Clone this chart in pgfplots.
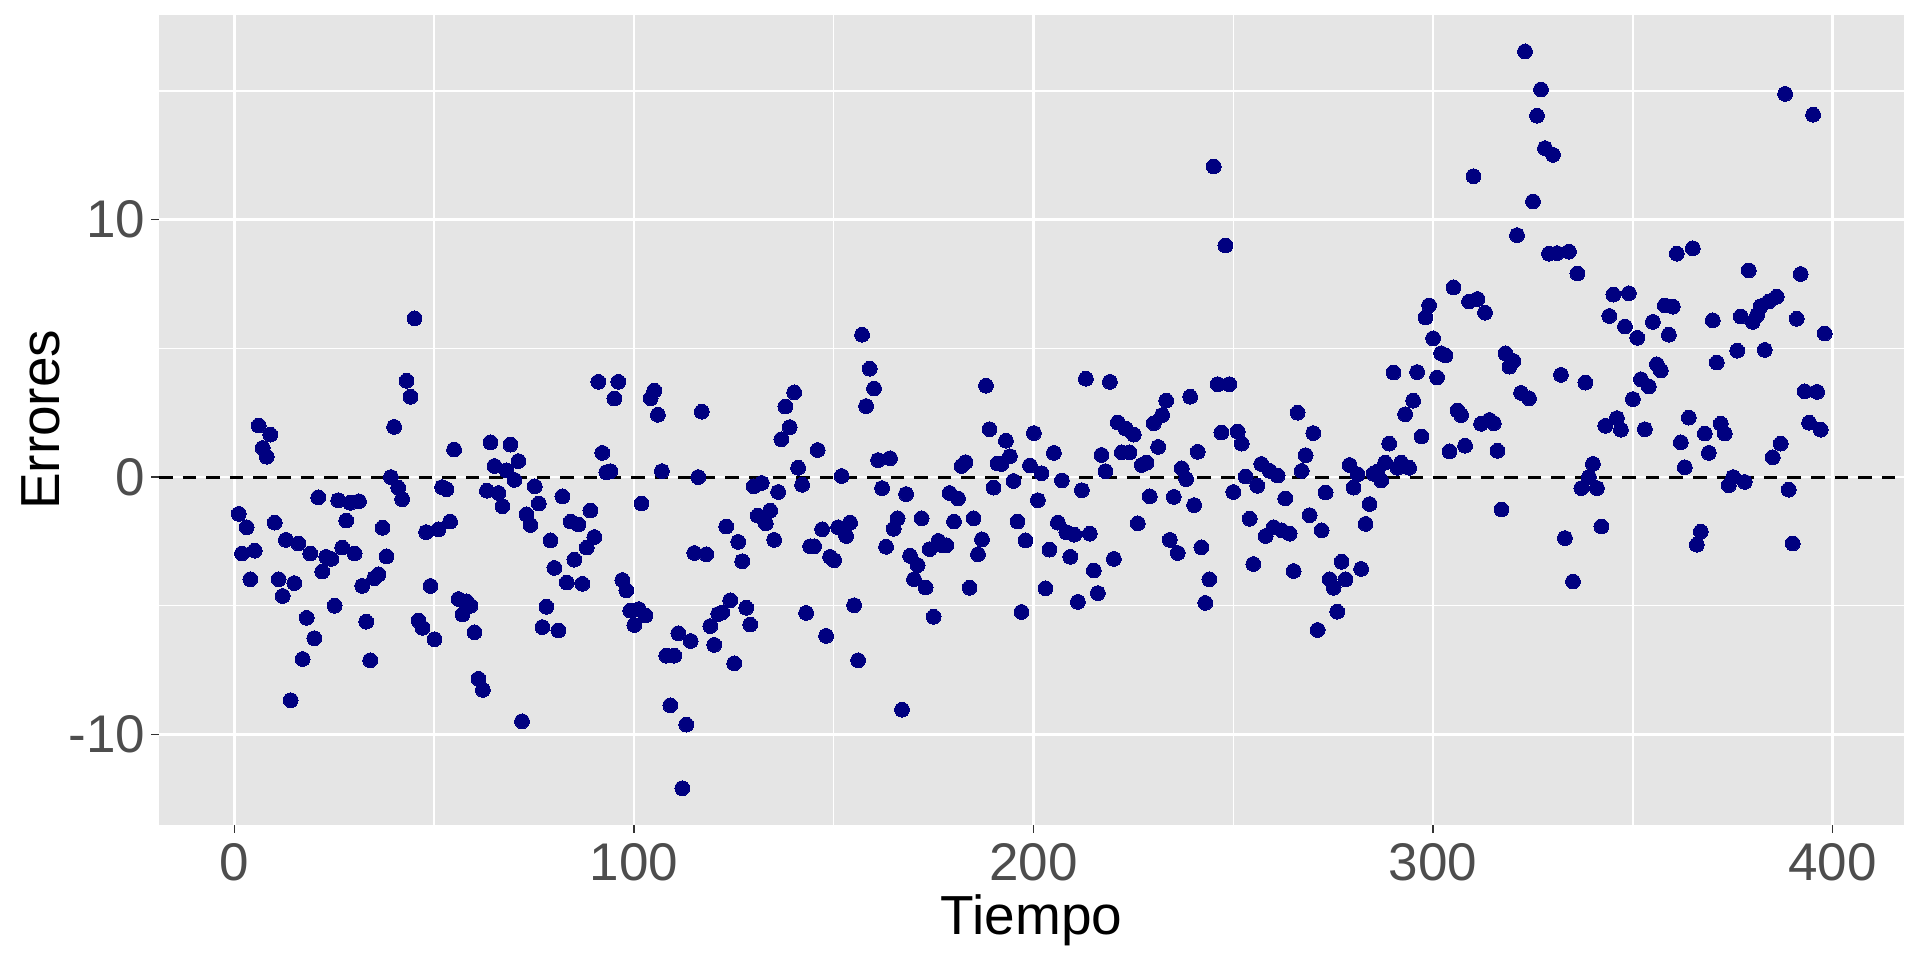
\documentclass[border=0pt]{standalone}
\usepackage{pgfplots}
\pgfplotsset{compat=1.18}
\usepackage{fontspec}
\setmainfont{Liberation Sans}
\definecolor{bg}{HTML}{E5E5E5}
\definecolor{pts}{HTML}{000080}
\definecolor{lab}{HTML}{4D4D4D}
\definecolor{tk}{HTML}{333333}
\pgfplotstableread{
x y
1.1 -1.43
1.9 -2.97
3.1 -1.95
4.0 -3.97
5.1 -2.86
6.1 2.0
7.1 1.13
8.1 0.79
9.0 1.65
10.1 -1.77
11.1 -3.97
12.1 -4.62
12.9 -2.44
14.1 -8.67
15.0 -4.12
16.0 -2.58
17.1 -7.07
18.1 -5.47
19.0 -2.97
20.0 -6.26
21.0 -0.79
22.0 -3.67
23.0 -3.1
24.3 -3.18
25.1 -5.0
26.0 -0.9
27.0 -2.74
28.0 -1.69
29.0 -1.0
30.1 -2.97
31.2 -0.94
32.0 -4.23
33.0 -5.62
34.0 -7.12
35.0 -3.93
36.1 -3.78
37.1 -1.97
38.1 -3.08
39.2 0.0
40.0 1.95
41.0 -0.41
42.0 -0.86
43.1 3.74
44.1 3.12
45.1 6.17
46.1 -5.58
47.1 -5.86
48.0 -2.14
49.1 -4.23
50.1 -6.3
51.1 -2.03
52.0 -0.39
53.1 -0.47
54.0 -1.73
55.0 1.07
56.1 -4.74
57.1 -5.34
58.1 -4.83
59.1 -5.0
60.1 -6.03
61.1 -7.84
62.2 -8.27
63.2 -0.53
64.1 1.35
65.1 0.43
66.1 -0.62
67.1 -1.13
68.1 0.26
69.1 1.26
70.1 -0.11
71.1 0.62
72.0 -9.49
73.1 -1.45
74.1 -1.86
75.2 -0.36
76.2 -1.03
77.1 -5.83
78.1 -5.04
79.1 -2.46
80.1 -3.53
81.1 -5.96
82.1 -0.75
83.2 -4.1
84.2 -1.73
85.1 -3.21
86.1 -1.84
87.1 -4.15
88.2 -2.74
89.1 -1.3
90.1 -2.33
91.1 3.7
92.1 0.94
93.1 0.19
94.1 0.23
95.1 3.05
96.1 3.7
97.1 -4.0
98.1 -4.4
99.1 -5.19
100.1 -5.75
101.2 -5.13
101.9 -1.03
102.9 -5.38
104.2 3.06
105.1 3.36
106.0 2.42
107.0 0.23
108.1 -6.94
109.1 -8.87
110.1 -6.94
111.1 -6.07
112.1 -12.09
113.1 -9.62
114.2 -6.37
115.1 -2.95
116.1 0.0
117.0 2.54
118.1 -3.0
119.1 -5.79
120.1 -6.52
121.1 -5.32
122.1 -5.26
123.1 -1.92
124.1 -4.79
125.1 -7.24
126.1 -2.52
127.1 -3.27
128.1 -5.08
129.1 -5.73
130.0 -0.36
131.0 -1.5
132.0 -0.23
133.0 -1.8
134.1 -1.3
135.1 -2.44
136.1 -0.58
136.9 1.47
137.9 2.74
139.0 1.94
140.1 3.29
141.1 0.36
142.1 -0.3
143.1 -5.28
144.1 -2.69
145.1 -2.69
146.0 1.05
147.1 -2.03
148.1 -6.17
149.1 -3.1
150.1 -3.23
151.1 -1.95
152.0 0.04
153.1 -2.29
154.1 -1.77
155.1 -4.98
156.1 -7.12
157.1 5.53
158.1 2.76
159.0 4.21
160.1 3.44
161.1 0.66
162.1 -0.43
163.1 -2.71
164.1 0.73
165.0 -2.01
166.0 -1.6
167.1 -9.04
168.1 -0.66
169.1 -3.06
170.1 -3.97
171.0 -3.42
172.0 -1.6
173.0 -4.29
174.0 -2.8
175.0 -5.43
176.2 -2.48
177.2 -2.65
178.2 -2.65
179.0 -0.62
180.1 -1.73
181.1 -0.83
182.0 0.43
183.0 0.58
184.0 -4.3
185.0 -1.6
186.1 -3.0
187.1 -2.42
188.1 3.55
189.0 1.86
190.0 -0.41
191.0 0.53
192.0 0.51
193.1 1.41
194.1 0.81
195.0 -0.15
196.0 -1.73
197.0 -5.24
198.0 -2.46
199.1 0.45
200.1 1.71
201.1 -0.9
202.0 0.15
203.0 -4.32
204.0 -2.82
205.1 0.94
206.1 -1.77
207.1 -0.13
208.2 -2.14
209.2 -3.1
210.2 -2.24
211.1 -4.85
212.1 -0.51
213.1 3.82
214.1 -2.2
215.1 -3.63
216.1 -4.51
217.0 0.86
218.0 0.23
219.1 3.7
220.1 -3.18
221.1 2.12
222.1 0.96
223.1 1.88
224.0 0.96
225.1 1.65
226.1 -1.8
227.1 0.47
228.3 0.56
229.1 -0.75
230.1 2.09
231.2 1.17
232.2 2.41
233.2 2.97
234.1 -2.44
235.1 -0.77
236.1 -2.95
237.1 0.34
238.2 -0.08
239.2 3.12
240.2 -1.09
241.1 0.98
242.0 -2.73
243.0 -4.89
244.0 -3.97
245.1 12.07
246.1 3.61
247.0 1.73
248.0 9.0
249.0 3.61
250.0 -0.58
251.1 1.77
252.1 1.3
253.1 0.02
254.1 -1.62
255.0 -3.38
256.0 -0.34
257.0 0.51
258.1 -2.29
259.1 0.24
260.1 -1.95
261.1 0.06
262.1 -2.07
263.0 -0.83
264.1 -2.2
265.1 -3.65
266.1 2.5
267.1 0.24
268.1 0.85
269.1 -1.48
270.0 1.71
271.1 -5.94
272.1 -2.07
273.1 -0.6
274.1 -3.97
275.1 -4.3
276.0 -5.23
277.1 -3.29
278.1 -3.97
279.1 0.47
280.1 -0.41
281.1 0.11
282.0 -3.57
283.1 -1.82
284.1 -1.05
285.1 0.13
286.0 0.21
287.0 -0.13
288.0 0.56
289.0 1.3
290.1 4.06
291.1 0.36
292.0 0.56
293.0 2.44
294.0 0.36
295.0 2.97
296.0 4.08
297.1 1.58
298.1 6.2
299.0 6.67
300.0 5.39
301.0 3.87
302.0 4.81
303.1 4.72
304.1 1.0
305.1 7.37
306.1 2.59
307.0 2.41
308.0 1.22
309.0 6.82
310.1 11.69
311.1 6.92
312.0 2.07
313.0 6.39
314.1 2.22
315.2 2.09
316.1 1.02
317.1 -1.26
318.1 4.81
319.1 4.29
320.1 4.51
321.0 9.4
322.0 3.27
323.0 16.54
324.0 3.06
325.0 10.71
326.0 14.04
327.0 15.06
328.0 12.78
329.0 8.68
330.0 12.52
331.0 8.7
332.0 3.97
333.0 -2.37
334.0 8.76
335.0 -4.06
336.1 7.91
337.1 -0.43
338.1 3.67
339.0 0.0
340.0 0.51
341.0 -0.43
342.1 -1.92
343.1 1.99
344.1 6.26
345.1 7.09
346.0 2.29
347.0 1.84
348.0 5.85
349.0 7.14
350.0 3.03
351.1 5.41
352.0 3.8
353.0 1.86
354.0 3.52
355.0 6.03
356.0 4.38
357.0 4.14
358.0 6.67
359.0 5.53
360.0 6.62
361.0 8.68
362.0 1.35
363.0 0.38
364.0 2.31
365.0 8.89
366.0 -2.63
367.0 -2.12
368.0 1.69
369.0 0.94
370.0 6.09
371.0 4.45
372.0 2.07
373.0 1.69
374.0 -0.32
375.1 0.0
376.1 4.91
377.0 6.24
378.0 -0.19
379.0 8.03
380.0 6.03
381.1 6.3
382.0 6.64
383.0 4.94
384.0 6.82
385.0 0.77
386.0 7.01
387.0 1.3
388.1 14.89
389.0 -0.49
390.0 -2.58
391.0 6.15
392.0 7.89
393.0 3.33
394.1 2.11
395.1 14.08
396.1 3.31
397.0 1.84
398.0 5.58
}\errores
\begin{document}
\begin{tikzpicture}
\begin{axis}[
  at={(0,0)}, anchor=south west,
  scale only axis, width=872.5pt, height=405.2pt,
  xmin=-18.85, xmax=417.85, ymin=-13.52, ymax=17.97,
  axis background/.style={fill=bg},
  axis line style={draw=none},
  grid=both,
  major grid style={white, line width=1.35pt},
  minor grid style={white, line width=0.7pt},
  xtick={0,100,200,300,400}, xticklabels={0,100,200,300,400},
  minor xtick={50,150,250,350},
  ytick={-10,0,10}, yticklabels={-10,0,10},
  minor ytick={-5,5,15},
  tick align=outside,
  xtick pos=bottom, ytick pos=left,
  major tick length=3.8pt, minor tick length=0pt,
  tick style={color=tk, line width=0.75pt},
  ticklabel style={font=\fontsize{26.5}{31}\selectfont, text=lab},
  xticklabel style={anchor=north, inner sep=0pt, yshift=-5pt},
  yticklabel style={anchor=east, inner sep=0pt, xshift=-3pt},
  xlabel={Tiempo}, ylabel={Errores},
  every axis x label/.style={at={(axis description cs:0.5,0)}, anchor=center, yshift=-47.5pt, font=\fontsize{27.5}{32}\selectfont, text=black},
  every axis y label/.style={at={(axis description cs:-0.0675,0.5)}, rotate=90, anchor=center, font=\fontsize{27.5}{32}\selectfont, text=black},
]
\addplot[pts, only marks, mark=*, mark size=3.7pt, mark options={fill=pts, draw=pts, line width=0pt}] table {\errores};
\addplot[black, line width=1.5pt, dash pattern=on 6.8pt off 5pt] coordinates {(-18.85,0) (417.85,0)};
\end{axis}
\pgfresetboundingbox
\path (-79.5pt,-67.5pt) rectangle (880.5pt,412.5pt);
\end{tikzpicture}
\end{document}
